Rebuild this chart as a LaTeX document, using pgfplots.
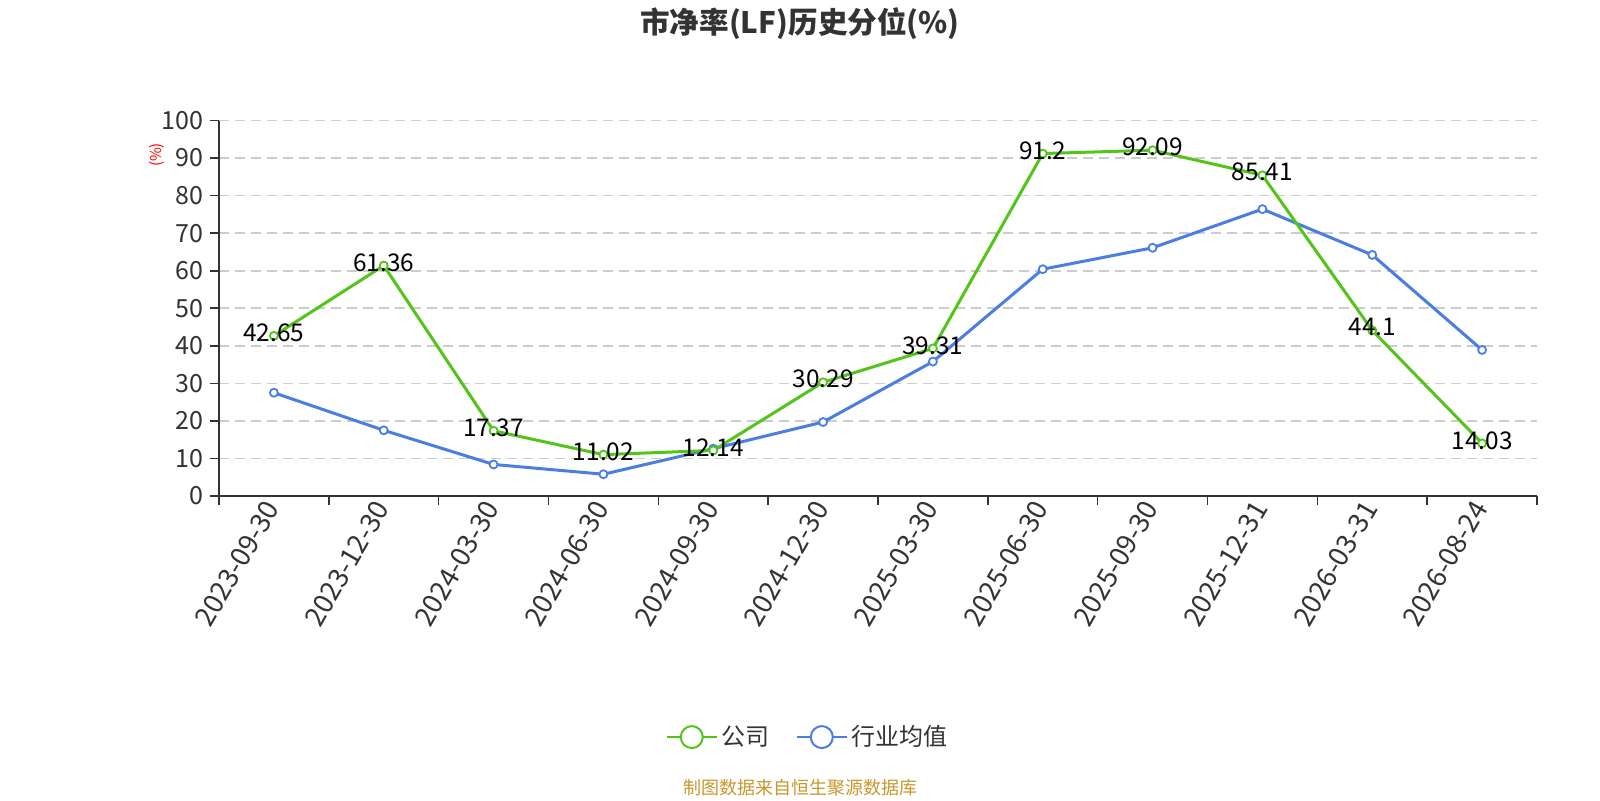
\documentclass[border=0pt]{standalone}
\usepackage{pgfplots}
\pgfplotsset{compat=1.18}
\usepackage{fontspec}
\setmainfont{Noto Sans CJK SC}
\definecolor{cgreen}{RGB}{82,196,26}
\definecolor{cblue}{RGB}{74,126,224}
\definecolor{ctext}{RGB}{51,51,51}
\definecolor{cgrid}{RGB}{204,204,204}
\definecolor{cfoot}{RGB}{201,150,43}
\begin{document}
\begin{tikzpicture}
\path[use as bounding box] (0,0) rectangle (800pt,400pt);
\node[font=\fontsize{14.8}{17}\selectfont\bfseries, text=ctext] at (400pt,388pt) {市净率(LF)历史分位(\%)};
\node[font=\fontsize{9}{11}\selectfont, text=cfoot] at (400pt,6pt) {制图数据来自恒生聚源数据库};
\node[font=\fontsize{7.5}{8}\selectfont, text=red, rotate=90] at (78.5pt,322.5pt) {(\%)};
\begin{axis}[
  at={(109.5pt,152pt)}, anchor=south west,
  scale only axis, width=659pt, height=187.75pt,
  xmin=-0.5, xmax=11.5, ymin=0, ymax=100,
  axis lines=left,
  axis line style={-, draw=ctext, line width=0.9pt},
  tick align=outside,
  major tick length=4.5pt,
  tick style={draw=ctext, line width=0.8pt},
  xtick={-0.5,0.5,...,11.5},
  xticklabels={},
  extra x ticks={0,1,2,3,4,5,6,7,8,9,10,11},
  extra x tick labels={2023-09-30,2023-12-30,2024-03-30,2024-06-30,2024-09-30,2024-12-30,2025-03-30,2025-06-30,2025-09-30,2025-12-31,2026-03-31,2026-08-24},
  extra x tick style={major tick length=0pt, tick style={draw=none},
    xticklabel style={rotate=60, anchor=east, yshift=-1pt, font=\fontsize{13.6}{15}\selectfont, text=ctext}},
  ytick={0,10,...,100},
  yticklabel style={font=\fontsize{12.5}{14}\selectfont, text=ctext},
  /pgf/number format/assume math mode=true,
  ymajorgrids,
  grid style={draw=cgrid, line width=0.8pt, dash pattern=on 5pt off 3pt},
  clip=false,
  reverse legend,
  legend columns=2,
  legend style={at={(axis description cs:0.4475,-0.642)}, anchor=center, draw=none, fill=none,
    font=\fontsize{12}{14}\selectfont, text=ctext,
    /tikz/every even column/.append style={column sep=11pt}},
  legend image code/.code={
    \draw[#1, line width=1pt, mark=none] (0pt,0pt) -- (25pt,0pt);
    \draw[#1, line width=1pt, mark=none, fill=white] (12.5pt,0pt) circle (5.5pt);
  },
]
\addplot[cblue, line width=1.5pt, mark=*, mark size=2pt, mark options={fill=white, draw=cblue, line width=0.9pt}]
coordinates {(0,27.5) (1,17.5) (2,8.4) (3,5.8) (4,12.6) (5,19.7) (6,35.8) (7,60.4) (8,66.1) (9,76.4) (10,64.2) (11,38.9)};
\addlegendentry{行业均值}
\addplot[cgreen, line width=1.5pt, mark=*, mark size=2pt, mark options={fill=white, draw=cgreen, line width=0.9pt},
  nodes near coords, point meta=explicit symbolic,
  every node near coord/.append style={anchor=center, yshift=1.5pt, text=black, font=\fontsize{12.2}{14}\selectfont}]
coordinates {(0,42.65)[42.65] (1,61.36)[61.36] (2,17.37)[17.37] (3,11.02)[11.02] (4,12.14)[12.14] (5,30.29)[30.29] (6,39.31)[39.31] (7,91.2)[91.2] (8,92.09)[92.09] (9,85.41)[85.41] (10,44.1)[44.1] (11,14.03)[14.03]};
\addlegendentry{公司}
\end{axis}
\end{tikzpicture}
\end{document}
